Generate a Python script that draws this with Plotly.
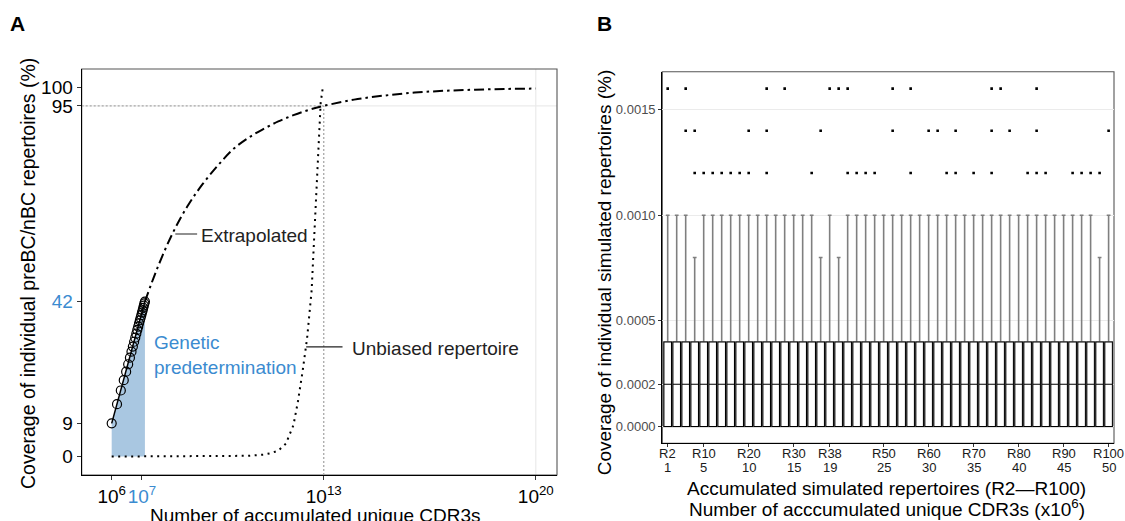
import plotly.graph_objects as go

# ---------------- Panel A data ----------------
circle_x_millions = [1.0, 1.5, 2.0, 2.5, 3.0, 3.5, 4.0, 4.5, 5.0, 5.5, 6.0, 6.5,
                     7.0, 7.5, 8.0, 8.5, 9.0, 9.5, 10.0, 10.5, 11.0, 11.5, 12.0, 12.5]
circle_y = [9.0, 14.2, 17.9, 20.7, 23.0, 25.0, 26.8, 28.4, 29.8, 31.1, 32.2, 33.3,
            34.3, 35.2, 36.1, 36.9, 37.6, 38.3, 39.0, 39.6, 40.3, 40.9, 41.5, 42.0]

extrap_log10_x = [7.097, 7.5, 8.0, 8.5, 9.0, 9.5, 10.0, 10.5, 11.0, 11.5, 12.0, 12.5,
                  13.0, 14.0, 15.0, 16.0, 17.0, 18.0, 19.0, 20.0]
extrap_y = [42.0, 50.9, 60.3, 67.8, 73.8, 78.8, 83.2, 86.3, 88.7, 90.8, 92.5, 93.9,
            95.0, 96.7, 97.8, 98.6, 99.1, 99.4, 99.6, 99.7]

unbiased_log10_x = [6.0, 7.0, 8.0, 9.0, 10.0, 10.5, 11.0, 11.25, 11.5, 11.75, 12.0,
                    12.15, 12.3, 12.45, 12.6, 12.7, 12.8, 12.9, 12.97]
unbiased_y = [0.0, 0.0, 0.0, 0.0, 0.1, 0.2, 0.5, 0.9, 1.6, 3.5, 8.5,
              15.0, 23.0, 32.0, 45.0, 62.0, 82.0, 96.0, 100.0]

threshold_y = 95
threshold_x = 1e13

a_xtick_vals = [1e6, 1e7, 1e13, 1e20]
a_ytick_vals = [0, 9, 42, 95, 100]

# ---------------- Panel B data ----------------
boxes = list(range(1, 51))
q1 = [0.0] * 50
med = [0.0002] * 50
q3 = [0.0004] * 50
whisker_top = [0.0010, 0.0010, 0.0010, 0.0008, 0.0010, 0.0010, 0.0010, 0.0010, 0.0010, 0.0010,
               0.0010, 0.0010, 0.0010, 0.0010, 0.0010, 0.0010, 0.0010, 0.0008, 0.0010, 0.0008,
               0.0010, 0.0010, 0.0010, 0.0010, 0.0010, 0.0010, 0.0010, 0.0010, 0.0010, 0.0010,
               0.0010, 0.0010, 0.0010, 0.0010, 0.0010, 0.0010, 0.0010, 0.0010, 0.0010, 0.0010,
               0.0010, 0.0010, 0.0010, 0.0010, 0.0010, 0.0010, 0.0010, 0.0010, 0.0008, 0.0010]
outliers_0016 = [1, 3, 12, 14, 19, 20, 21, 26, 28, 37, 38, 42]
outliers_0014 = [3, 4, 10, 12, 18, 26, 30, 31, 33, 37, 39, 42, 50]
outliers_0012 = [4, 5, 6, 7, 8, 9, 10, 12, 17, 21, 22, 23, 24, 28, 32, 33, 35, 37,
                 41, 42, 43, 46, 47, 48, 49]

b_tick_pos = [1, 5, 10, 15, 19, 25, 30, 35, 40, 45, 50]
b_tick_rep = ["R2", "R10", "R20", "R30", "R38", "R50", "R60", "R70", "R80", "R90", "R100"]
b_tick_cdr3 = ["1", "5", "10", "15", "19", "25", "30", "35", "40", "45", "50"]
b_ytick_vals = [0.0, 0.0002, 0.0005, 0.0010, 0.0015]
b_ytick_text = ["0.0000", "0.0002", "0.0005", "0.0010", "0.0015"]

# ---------------- Styling ----------------
FONT = "Liberation Sans, Arial, Helvetica, sans-serif"
BLUE = "#3b8bd0"
FILL = "#a9c7e1"
W, H = 1125, 521


def px(x):
    return x / W


def py(y):
    return 1 - y / H


fig = go.Figure()

cx = [v * 1e6 for v in circle_x_millions]
ex = [10 ** v for v in extrap_log10_x]
ux = [10 ** v for v in unbiased_log10_x]

# blue fill (genetic predetermination)
fig.add_trace(go.Scatter(x=cx, y=circle_y, mode="lines", fill="tozeroy",
                         fillcolor=FILL, line=dict(width=0), hoverinfo="skip",
                         showlegend=False))
# grey dotted threshold lines
fig.add_trace(go.Scatter(x=[10 ** 5.01, threshold_x], y=[threshold_y, threshold_y],
                         mode="lines", line=dict(color="#a8a8a8", width=1.3, dash="2px,2px"),
                         showlegend=False, hoverinfo="skip"))
fig.add_trace(go.Scatter(x=[threshold_x, threshold_x], y=[-5, threshold_y],
                         mode="lines", line=dict(color="#a8a8a8", width=1.3, dash="2px,2px"),
                         showlegend=False, hoverinfo="skip"))
# unbiased repertoire (dotted)
fig.add_trace(go.Scatter(x=ux, y=unbiased_y, mode="lines",
                         line=dict(color="black", width=2, dash="2px,4.5px"),
                         showlegend=False, hoverinfo="skip"))
# extrapolated (dash-dot)
fig.add_trace(go.Scatter(x=ex, y=extrap_y, mode="lines", line_shape="spline",
                         line=dict(color="black", width=2, dash="10px,4px,2.5px,4px"),
                         showlegend=False, hoverinfo="skip"))
# observed points
fig.add_trace(go.Scatter(x=cx, y=circle_y, mode="lines+markers",
                         line=dict(color="black", width=1.5),
                         marker=dict(symbol="circle-open", size=9, color="black",
                                     line=dict(width=1.2, color="black")),
                         showlegend=False, hoverinfo="skip"))
# leader lines
fig.add_trace(go.Scatter(x=[10 ** 8.1, 10 ** 8.82], y=[60.3, 60.3], mode="lines",
                         line=dict(color="#222", width=1.2), showlegend=False, hoverinfo="skip"))
fig.add_trace(go.Scatter(x=[10 ** 12.42, 10 ** 13.62], y=[29.7, 29.7], mode="lines",
                         line=dict(color="#222", width=1.2), showlegend=False, hoverinfo="skip"))

# ---------------- Panel B traces ----------------
fig.add_trace(go.Box(x=boxes, q1=q1, median=med, q3=q3, lowerfence=q1,
                     upperfence=whisker_top, width=0.84, boxpoints=False,
                     line=dict(color="#7f7f7f", width=1.6), fillcolor="white",
                     xaxis="x2", yaxis="y2", showlegend=False, hoverinfo="skip"))
fig.add_trace(go.Box(x=boxes, q1=q1, median=med, q3=q3, lowerfence=q1,
                     upperfence=q3, width=0.84, boxpoints=False,
                     line=dict(color="black", width=1.05), fillcolor="white",
                     xaxis="x2", yaxis="y2", showlegend=False, hoverinfo="skip"))
out_x = outliers_0016 + outliers_0014 + outliers_0012
out_y = [0.0016] * len(outliers_0016) + [0.0014] * len(outliers_0014) + [0.0012] * len(outliers_0012)
fig.add_trace(go.Scatter(x=out_x, y=out_y, mode="markers",
                         marker=dict(symbol="square", size=2.6, color="black"),
                         xaxis="x2", yaxis="y2", showlegend=False, hoverinfo="skip"))

a_xtick_text = ["10<sup>6</sup>", "<span style='color:%s'>10<sup>7</sup></span>" % BLUE,
                "10<sup>13</sup>", "10<sup>20</sup>"]
a_ytick_text = ["0", "9", "<span style='color:%s'>42</span>" % BLUE, "95", "100"]

fig.update_layout(
    width=W, height=H,
    margin=dict(l=0, r=0, t=0, b=0, autoexpand=False),
    paper_bgcolor="white", plot_bgcolor="white",
    font=dict(family=FONT, color="black"),
    boxmode="overlay",
    xaxis=dict(domain=[px(81.7), px(557)], type="log", range=[5.01, 20.7],
               tickvals=a_xtick_vals, ticktext=a_xtick_text, tickangle=0,
               tickfont=dict(size=19, color="black"), ticks="outside", ticklen=4,
               tickcolor="#333", showline=True, linecolor="black", linewidth=1.2,
               showgrid=False, zeroline=False, anchor="y", automargin=False),
    yaxis=dict(domain=[py(475), py(69)], range=[-5, 105],
               tickvals=a_ytick_vals, ticktext=a_ytick_text,
               tickfont=dict(size=19, color="black"), ticks="outside", ticklen=4,
               tickcolor="#333", showline=True, linecolor="black", linewidth=1.2,
               showgrid=False, zeroline=False, anchor="x", automargin=False),
    xaxis2=dict(domain=[px(662.3), px(1114)], range=[0.4, 50.6],
                tickvals=b_tick_pos, showticklabels=False,
                ticks="outside", ticklen=3,
                tickcolor="#333", showline=True, linecolor="black", linewidth=1.2,
                showgrid=False, zeroline=False, anchor="y2", automargin=False),
    yaxis2=dict(domain=[py(443.3), py(71.7)], range=[-0.00008, 0.00168],
                tickvals=b_ytick_vals, ticktext=b_ytick_text,
                tickfont=dict(size=13, color="#4d4d4d"), ticks="outside", ticklen=3,
                tickcolor="#333", showline=True, linecolor="black", linewidth=1.2,
                showgrid=True, gridcolor="#ebebeb", gridwidth=1,
                zeroline=False, anchor="x2", automargin=False),
)

shapes = [
    # panel A grid lines
    dict(type="line", xref="x domain", yref="y", x0=0, x1=1, y0=threshold_y, y1=threshold_y,
         line=dict(color="#ebebeb", width=1.2), layer="below"),
    dict(type="line", xref="x", yref="y domain", x0=1e20, x1=1e20, y0=0, y1=1,
         line=dict(color="#ebebeb", width=1.2), layer="below"),
    # panel borders
    dict(type="rect", xref="x domain", yref="y domain", x0=0, x1=1, y0=0, y1=1,
         line=dict(color="#555555", width=1.1), layer="below"),
    dict(type="rect", xref="x2 domain", yref="y2 domain", x0=0, x1=1, y0=0, y1=1,
         line=dict(color="#555555", width=1.1), layer="below"),
]
fig.update_layout(shapes=shapes)

ann = [
    dict(text="<b>A</b>", x=px(17), y=py(23), xref="paper", yref="paper",
         showarrow=False, font=dict(size=21, color="black"), xanchor="center", yanchor="middle"),
    dict(text="<b>B</b>", x=px(604), y=py(23), xref="paper", yref="paper",
         showarrow=False, font=dict(size=21, color="black"), xanchor="center", yanchor="middle"),
    dict(text="Coverage of individual preBC/nBC repertoires (%)", textangle=-90,
         x=px(27.5), y=py(273.5), xref="paper", yref="paper", showarrow=False,
         font=dict(size=19.5, color="black"), xanchor="center", yanchor="middle"),
    dict(text="Number of accumulated unique CDR3s", x=px(315), y=py(503),
         xref="paper", yref="paper", showarrow=False,
         font=dict(size=19, color="black"), xanchor="center", yanchor="top"),
    dict(text="Extrapolated", x=8.89, y=60.0, xref="x", yref="y", showarrow=False,
         font=dict(size=19, color="#222"), xanchor="left", yanchor="middle"),
    dict(text="Unbiased repertoire", x=13.86, y=29.3, xref="x", yref="y", showarrow=False,
         font=dict(size=19, color="#222"), xanchor="left", yanchor="middle"),
    dict(text="Genetic<br>predetermination", x=7.32, y=27.5, xref="x", yref="y",
         showarrow=False, align="left", font=dict(size=19, color=BLUE),
         xanchor="left", yanchor="middle"),
    dict(text="Coverage of individual simulated repertoires (%)", textangle=-90,
         x=px(604), y=py(272.3), xref="paper", yref="paper", showarrow=False,
         font=dict(size=19, color="black"), xanchor="center", yanchor="middle"),
    dict(text="Accumulated simulated repertoires (R2\u2014R100)", x=px(887), y=py(488),
         xref="paper", yref="paper", showarrow=False,
         font=dict(size=19, color="black"), xanchor="center", yanchor="middle"),
    dict(text="Number of acccumulated unique CDR3s (x10<sup>6</sup>)", x=px(887), y=py(508),
         xref="paper", yref="paper", showarrow=False,
         font=dict(size=19, color="black"), xanchor="center", yanchor="middle"),
]
# two rows of panel B tick labels: repertoire and number of CDR3s (x10^6)
for pos, rep, lab in zip(b_tick_pos, b_tick_rep, b_tick_cdr3):
    ann.append(dict(text=rep, x=pos, y=py(453.5), xref="x2", yref="paper", showarrow=False,
                    font=dict(size=13, color="#1a1a1a"), xanchor="center", yanchor="middle"))
    ann.append(dict(text=lab, x=pos, y=py(467.5), xref="x2", yref="paper", showarrow=False,
                    font=dict(size=13, color="#1a1a1a"), xanchor="center", yanchor="middle"))
fig.update_layout(annotations=ann)

fig.write_html("out.html", config={"displayModeBar": False},
               post_script="document.body.style.margin='0px';"
                           "document.body.style.overflow='hidden';")
